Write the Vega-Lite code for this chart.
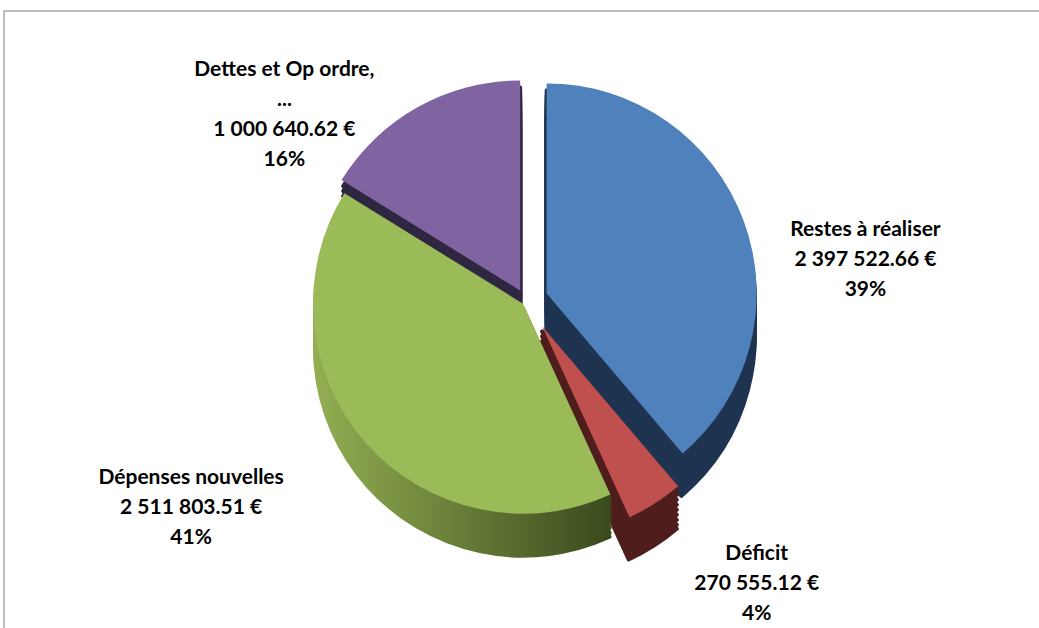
{
  "$schema": "https://vega.github.io/schema/vega-lite/v6.json",
  "width": 1039,
  "height": 628,
  "autosize": {"type": "fit", "contains": "padding"},
  "padding": {"left": 3, "top": 10, "right": -10, "bottom": -10},
  "background": "white",
  "config": {
    "view": {"stroke": null},
    "locale": {"number": {"decimal": ".", "thousands": " ", "grouping": [3], "currency": ["", " €"]}}
  },
  "layer": [
    {
      "data": {"values": [{"frame": 1}]},
      "mark": {"type": "rect", "filled": false, "stroke": "#a6a6a6", "strokeWidth": 1.5},
      "encoding": {}
    },
    {
      "data": {
        "values": [
          {"rank": 1, "category": "Restes à réaliser", "value": 2397522.66},
          {"rank": 2, "category": "Déficit", "value": 270555.12},
          {"rank": 3, "category": "Dépenses nouvelles", "value": 2511803.51},
          {"rank": 4, "category": "Dettes et Op ordre,\n...", "value": 1000640.62}
        ]
      },
      "transform": [
        {"joinaggregate": [{"op": "sum", "field": "value", "as": "total"}]},
        {"calculate": "datum.category + '\\n' + format(datum.value, '$,.2f') + '\\n' + format(datum.value / datum.total, '.0%')", "as": "label"}
      ],
      "encoding": {
        "theta": {"field": "value", "type": "quantitative", "stack": true},
        "order": {"field": "rank", "type": "quantitative"}
      },
      "layer": [
        {
          "encoding": {
            "fill": {
              "condition": {"test": "datum.rank === 3", "value": {"gradient": "linear", "x1": 0, "x2": 1, "y1": 0, "y2": 0, "stops": [{"offset": 0, "color": "#93ae52"}, {"offset": 1, "color": "#3b4a1d"}]}},
              "field": "rank", "type": "nominal",
              "scale": {"domain": [1, 2, 3, 4], "range": ["#1f3451", "#4e1d1c", "#5f7630", "#2f2741"]},
              "legend": null
            },
            "stroke": {
              "condition": {"test": "datum.rank === 3", "value": {"gradient": "linear", "x1": 0, "x2": 1, "y1": 0, "y2": 0, "stops": [{"offset": 0, "color": "#93ae52"}, {"offset": 1, "color": "#3b4a1d"}]}},
              "field": "rank", "type": "nominal",
              "scale": {"domain": [1, 2, 3, 4], "range": ["#1f3451", "#4e1d1c", "#5f7630", "#2f2741"]},
              "legend": null
            }
          },
          "layer": [
            {"mark": {"type": "arc", "radius": 208, "strokeWidth": 4, "strokeJoin": "round",
              "xOffset": {"expr": "[22,30,4,12][datum.rank-1] * sin(PI*(datum.value_start+datum.value_end)/datum.total)"},
              "yOffset": {"expr": "-[22,30,4,12][datum.rank-1] * cos(PI*(datum.value_start+datum.value_end)/datum.total) + 21"}}},
            {"mark": {"type": "arc", "radius": 208, "strokeWidth": 4, "strokeJoin": "round",
              "xOffset": {"expr": "[22,30,4,12][datum.rank-1] * sin(PI*(datum.value_start+datum.value_end)/datum.total)"},
              "yOffset": {"expr": "-[22,30,4,12][datum.rank-1] * cos(PI*(datum.value_start+datum.value_end)/datum.total) + 17"}}},
            {"mark": {"type": "arc", "radius": 208, "strokeWidth": 4, "strokeJoin": "round",
              "xOffset": {"expr": "[22,30,4,12][datum.rank-1] * sin(PI*(datum.value_start+datum.value_end)/datum.total)"},
              "yOffset": {"expr": "-[22,30,4,12][datum.rank-1] * cos(PI*(datum.value_start+datum.value_end)/datum.total) + 12"}}},
            {"mark": {"type": "arc", "radius": 208, "strokeWidth": 4, "strokeJoin": "round",
              "xOffset": {"expr": "[22,30,4,12][datum.rank-1] * sin(PI*(datum.value_start+datum.value_end)/datum.total)"},
              "yOffset": {"expr": "-[22,30,4,12][datum.rank-1] * cos(PI*(datum.value_start+datum.value_end)/datum.total) + 7"}}},
            {"mark": {"type": "arc", "radius": 208, "strokeWidth": 4, "strokeJoin": "round",
              "xOffset": {"expr": "[22,30,4,12][datum.rank-1] * sin(PI*(datum.value_start+datum.value_end)/datum.total)"},
              "yOffset": {"expr": "-[22,30,4,12][datum.rank-1] * cos(PI*(datum.value_start+datum.value_end)/datum.total) + 2"}}},
            {"mark": {"type": "arc", "radius": 208, "strokeWidth": 4, "strokeJoin": "round",
              "xOffset": {"expr": "[22,30,4,12][datum.rank-1] * sin(PI*(datum.value_start+datum.value_end)/datum.total)"},
              "yOffset": {"expr": "-[22,30,4,12][datum.rank-1] * cos(PI*(datum.value_start+datum.value_end)/datum.total) - 3"}}},
            {"mark": {"type": "arc", "radius": 208, "strokeWidth": 4, "strokeJoin": "round",
              "xOffset": {"expr": "[22,30,4,12][datum.rank-1] * sin(PI*(datum.value_start+datum.value_end)/datum.total)"},
              "yOffset": {"expr": "-[22,30,4,12][datum.rank-1] * cos(PI*(datum.value_start+datum.value_end)/datum.total) - 8"}}},
            {"mark": {"type": "arc", "radius": 208, "strokeWidth": 4, "strokeJoin": "round",
              "xOffset": {"expr": "[22,30,4,12][datum.rank-1] * sin(PI*(datum.value_start+datum.value_end)/datum.total)"},
              "yOffset": {"expr": "-[22,30,4,12][datum.rank-1] * cos(PI*(datum.value_start+datum.value_end)/datum.total) - 13"}}},
            {"mark": {"type": "arc", "radius": 208, "strokeWidth": 4, "strokeJoin": "round",
              "xOffset": {"expr": "[22,30,4,12][datum.rank-1] * sin(PI*(datum.value_start+datum.value_end)/datum.total)"},
              "yOffset": {"expr": "-[22,30,4,12][datum.rank-1] * cos(PI*(datum.value_start+datum.value_end)/datum.total) - 18"}}}
          ]
        },
        {
          "mark": {"type": "arc", "radius": 210,
            "xOffset": {"expr": "[22,30,4,12][datum.rank-1] * sin(PI*(datum.value_start+datum.value_end)/datum.total)"},
            "yOffset": {"expr": "-[22,30,4,12][datum.rank-1] * cos(PI*(datum.value_start+datum.value_end)/datum.total) - 23"}},
          "encoding": {
            "color": {
              "field": "rank", "type": "nominal",
              "scale": {"domain": [1, 2, 3, 4], "range": ["#4f81bd", "#c0504d", "#9bbb59", "#8064a2"]},
              "legend": null
            }
          }
        },
        {
          "mark": {"type": "text", "font": "Lato", "fontWeight": "bold", "fontSize": 21, "lineHeight": 30, "lineBreak": "\n", "align": "center", "baseline": "middle", "color": "#000000",
            "radius": {"expr": "[335,290,320,260][datum.rank-1]"},
            "dx": {"expr": "[25,75,-95,-115][datum.rank-1]"},
            "dy": {"expr": "[45,8,-35,-4][datum.rank-1]"},
            "yOffset": -23},
          "encoding": {
            "text": {"field": "label", "type": "nominal"}
          }
        }
      ]
    }
  ]
}
